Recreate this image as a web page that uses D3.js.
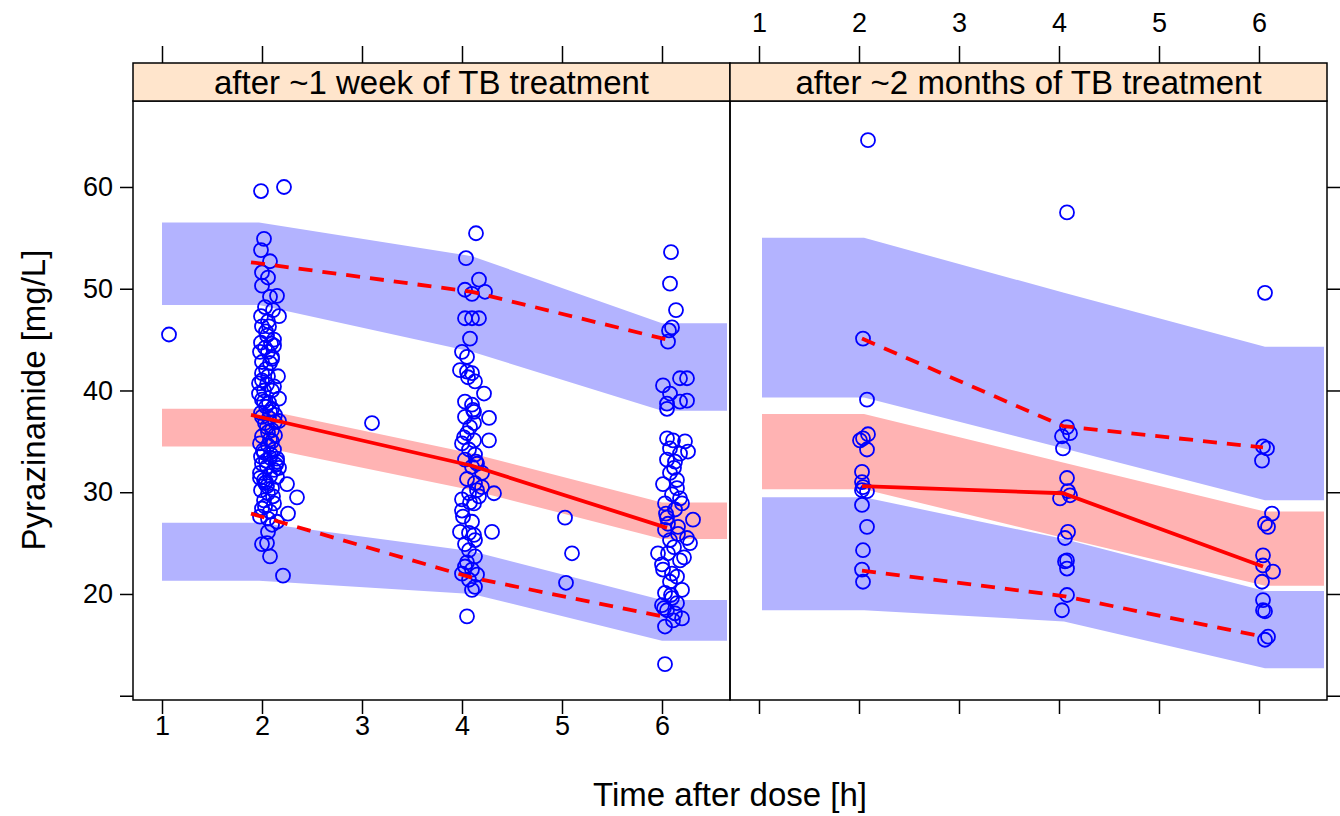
<!DOCTYPE html>
<html lang="en">
<head>
<meta charset="UTF-8">
<title>Pyrazinamide VPC</title>
<script src="https://cdn.jsdelivr.net/npm/d3@7"></script>
<style>
body{margin:0;background:#fff;}
text{font-family:"Liberation Sans",Arial,Helvetica,sans-serif;fill:#000;}
</style>
</head>
<body>
<script>
// panel titles
var panelTitles = ["after ~1 week of TB treatment", "after ~2 months of TB treatment"];

// tick values
var xTicks = [1, 2, 3, 4, 5, 6];
var yTicks = [10, 20, 30, 40, 50, 60];
var yTickLabels = ["", "20", "30", "40", "50", "60"];

// simulated prediction intervals, week 1
var bandTime1 = [1.0, 1.97, 4.1, 6.0, 6.65];
var upHi1  = [56.5, 56.5, 53.2, 46.6, 46.6];
var upLo1  = [48.4, 48.4, 43.8, 38.0, 38.0];
var medHi1 = [38.2, 38.2, 33.8, 29.0, 29.0];
var medLo1 = [34.5, 34.5, 30.2, 25.4, 25.4];
var lowHi1 = [27.0, 27.0, 24.2, 19.4, 19.4];
var lowLo1 = [21.3, 21.3, 20.0, 15.4, 15.4];

// simulated prediction intervals, month 2
var bandTime2 = [1.03, 2.05, 4.05, 6.06, 6.65];
var upHi2  = [55.0, 55.0, 49.6, 44.3, 44.3];
var upLo2  = [39.3, 39.3, 34.3, 29.2, 29.2];
var medHi2 = [37.7, 37.7, 32.9, 28.1, 28.1];
var medLo2 = [30.3, 30.3, 25.5, 20.8, 20.8];
var lowHi2 = [29.5, 29.5, 25.4, 20.3, 20.3];
var lowLo2 = [18.4, 18.4, 17.3, 12.7, 12.7];

// observed percentiles
var obsTime1 = [1.89, 4.1, 6.05];
var obsP95_1 = [52.6, 49.7, 45.0];
var obsP50_1 = [37.6, 32.6, 26.5];
var obsP05_1 = [27.9, 21.6, 17.7];

var obsTime2 = [2.03, 4.04, 6.04];
var obsP95_2 = [45.1, 36.5, 34.4];
var obsP50_2 = [30.6, 29.9, 22.7];
var obsP05_2 = [22.3, 19.8, 15.8];

// observations, week 1
var weekTime = [1.07,3.1,5.03,5.1,5.04,
1.99,2.22,2.02,1.99,2.08,2.0,2.06,2.0,2.08,2.15,2.03,2.11,2.17,1.99,2.0,2.07,2.05,2.12,1.99,2.09,2.03,1.98,2.06,2.1,2.0,2.08,2.04,2.0,2.06,2.16,1.97,2.05,2.12,2.02,2.1,2.0,2.17,2.07,2.04,2.1,1.99,2.0,2.07,2.13,2.17,2.03,2.1,2.05,2.0,2.08,2.13,1.98,2.06,2.12,2.02,1.99,2.08,2.15,2.04,2.0,2.05,2.12,2.17,1.98,2.08,2.15,2.02,2.25,2.03,2.1,1.99,2.06,2.35,2.02,2.12,2.0,2.08,2.26,1.98,2.06,2.15,2.1,2.06,2.05,2.0,2.08,2.21,
2.04,2.1,1.97,2.13,2.06,2.01,2.09,2.14,1.98,2.05,2.11,2.03,2.08,2.0,2.12,2.06,2.02,2.1,2.15,2.04,
4.14,4.04,4.17,4.03,4.1,4.23,4.03,4.1,4.17,4.08,4.0,4.05,3.98,4.05,4.1,4.13,4.22,4.03,4.1,4.12,4.03,4.27,4.12,4.05,4.12,4.27,4.07,4.13,4.03,4.1,4.2,4.13,4.07,4.17,4.32,4.12,3.98,4.07,4.3,4.13,4.07,4.13,4.03,4.1,4.07,4.13,4.1,4.05,4.0,4.05,4.15,4.0,4.08,4.15,4.0,4.1,4.03,4.0,4.15,4.2,
4.06,4.11,4.02,4.14,4.08,4.01,4.12,4.05,
6.09,6.08,6.14,6.10,6.07,6.06,6.01,6.18,6.25,6.08,6.05,6.25,6.18,6.05,6.05,6.11,6.23,6.26,6.08,6.18,6.05,6.13,6.08,6.01,6.15,6.18,6.03,6.13,6.31,6.03,6.16,6.25,6.28,6.08,5.96,6.06,6.18,6.01,6.10,6.15,6.20,6.03,6.10,6.15,6.05,6.20,6.11,6.03,6.03,6.1,6.05,6.12,6.0,6.08,6.13,6.0,6.15,6.2,6.06,
6.12,6.04,6.22,6.09,6.16,6.02];
var weekConc = [45.5,36.8,27.5,24.0,21.1,
59.6,60.0,54.9,53.8,52.7,51.6,51.1,50.3,49.2,49.3,48.2,47.9,47.3,47.3,46.3,46.3,45.4,45.0,44.7,44.6,44.2,43.8,43.8,43.3,42.8,42.7,42.1,41.7,41.4,41.4,40.7,40.6,40.4,40.0,40.0,39.1,39.2,38.8,38.4,38.2,37.8,37.4,37.3,37.6,37.0,36.8,36.1,36.4,35.5,35.2,35.6,34.8,34.6,34.2,33.9,33.5,33.4,33.0,33.1,32.8,32.5,32.2,32.4,31.9,31.6,31.5,31.2,30.8,30.9,30.4,30.2,29.9,29.5,29.2,28.9,28.4,28.1,27.9,27.6,27.4,27.1,26.8,26.1,25.0,24.9,23.7,21.8,
45.8,43.1,39.7,36.9,35.9,34.1,33.7,32.7,31.4,30.6,29.6,28.6,37.9,41.0,44.4,46.8,38.9,35.0,33.3,31.0,
55.45,53.0,50.9,49.9,49.5,49.7,47.1,47.1,47.1,45.1,43.8,43.3,42.0,41.85,41.7,40.9,39.7,38.9,38.6,37.9,37.4,37.3,36.8,35.8,35.1,35.1,34.2,33.7,33.2,32.5,31.9,30.9,29.9,29.6,29.9,28.9,26.1,26.0,26.1,25.3,24.3,23.7,22.7,22.4,21.4,20.7,20.4,17.8,29.3,31.3,32.8,34.8,36.4,30.2,28.2,27.1,24.9,22.0,21.9,30.5,
41.3,38.1,35.4,33.0,29.0,27.6,25.8,23.1,
53.6,50.5,47.9,46.2,45.9,44.8,40.5,41.2,41.2,39.7,38.7,39.0,38.9,38.2,35.3,35.1,35.0,34.0,34.3,33.8,33.2,33.0,31.9,30.8,30.4,29.4,28.9,28.3,27.3,26.3,26.6,25.5,25.0,25.3,24.0,24.0,23.3,22.4,22.0,21.7,20.4,20.1,19.6,19.1,18.4,17.6,17.4,16.8,13.1,29.8,27.5,24.6,22.9,21.2,18.1,18.9,31.2,28.9,26.9,
32.4,27.9,23.6,19.9,25.9,18.6];

// observations, month 2
var monthTime = [2.09,2.04,2.08,2.09,2.04,2.01,2.08,2.03,2.03,2.04,2.08,2.03,2.03,2.08,2.04,2.03,2.04,
4.08,4.08,4.11,4.03,4.04,4.08,4.09,4.11,4.01,4.09,4.06,4.08,4.06,4.08,4.08,4.03,
6.06,6.04,6.08,6.03,6.13,6.06,6.09,6.04,6.04,6.14,6.03,6.04,6.04,6.06,6.09,6.06];
var monthConc = [64.6,45.1,39.1,35.7,35.3,35.1,34.2,32.0,31.0,30.5,30.1,30.2,28.75,26.6,24.3,22.4,21.2,
57.5,36.4,35.8,35.5,34.3,31.4,30.1,29.7,29.4,26.1,25.5,23.3,23.2,22.5,19.9,18.4,
49.6,34.5,34.3,33.1,27.9,26.9,26.6,23.8,22.8,22.2,21.2,19.4,18.4,18.3,15.8,15.5];

var width = 1340, height = 816;
var plotTop = 101, plotBottom = 700, stripTop = 63;
var svg = d3.select("body").append("svg").attr("width", width).attr("height", height);

var yScale = d3.scaleLinear().domain([9.58, 68.45]).range([plotBottom, plotTop]);

function bands(t, a, b, c, d, e, f) {
	return [
		{col:"#b3b3ff", rows:t.map(function(v,i){return {t:v, lo:b[i], hi:a[i]};})},
		{col:"#ffb3b3", rows:t.map(function(v,i){return {t:v, lo:d[i], hi:c[i]};})},
		{col:"#b3b3ff", rows:t.map(function(v,i){return {t:v, lo:f[i], hi:e[i]};})}
	];
}

var panels = [
	{x0:133, x1:730, title:panelTitles[0],
	 bands:bands(bandTime1, upHi1, upLo1, medHi1, medLo1, lowHi1, lowLo1),
	 obsT:obsTime1, p95:obsP95_1, p50:obsP50_1, p05:obsP05_1,
	 ptT:weekTime, ptC:weekConc},
	{x0:730, x1:1327, title:panelTitles[1],
	 bands:bands(bandTime2, upHi2, upLo2, medHi2, medLo2, lowHi2, lowLo2),
	 obsT:obsTime2, p95:obsP95_2, p50:obsP50_2, p05:obsP05_2,
	 ptT:monthTime, ptC:monthConc}
];

panels.forEach(function(p, k) {
	var x = d3.scaleLinear().domain([0.71, 6.68]).range([p.x0, p.x1]);
	var g = svg.append("g");

	g.append("clipPath").attr("id", "clip" + k).append("rect")
		.attr("x", p.x0).attr("y", plotTop).attr("width", p.x1 - p.x0).attr("height", plotBottom - plotTop);
	var inner = g.append("g").attr("clip-path", "url(#clip" + k + ")");

	var area = d3.area().x(function(d){return x(d.t);})
		.y0(function(d){return yScale(d.lo);}).y1(function(d){return yScale(d.hi);});
	inner.selectAll("path.band").data(p.bands).enter().append("path")
		.attr("class", "band").attr("d", function(d){return area(d.rows);})
		.attr("fill", function(d){return d.col;}).attr("stroke", "none");

	// observed points
	inner.selectAll("circle").data(p.ptT).enter().append("circle")
		.attr("cx", function(d){return x(d);})
		.attr("cy", function(d, i){return yScale(p.ptC[i]);})
		.attr("r", 7).attr("fill", "none").attr("stroke", "#0000ff").attr("stroke-width", 1.8);

	// observed percentile lines
	var line = d3.line().x(function(d){return x(d[0]);}).y(function(d){return yScale(d[1]);});
	[[p.p95, "14,10"], [p.p50, null], [p.p05, "14,10"]].forEach(function(s) {
		inner.append("path")
			.attr("d", line(p.obsT.map(function(t, i){return [t, s[0][i]];})))
			.attr("fill", "none").attr("stroke", "#ff0000").attr("stroke-width", 3.8)
			.attr("stroke-dasharray", s[1]);
	});

	// frame
	g.append("rect").attr("x", p.x0).attr("y", plotTop).attr("width", p.x1 - p.x0)
		.attr("height", plotBottom - plotTop).attr("fill", "none").attr("stroke", "#000").attr("stroke-width", 1.5);

	// strip
	g.append("rect").attr("x", p.x0).attr("y", stripTop).attr("width", p.x1 - p.x0)
		.attr("height", plotTop - stripTop).attr("fill", "#ffe5cc").attr("stroke", "#000").attr("stroke-width", 1.5);
	g.append("text").attr("x", (p.x0 + p.x1) / 2).attr("y", (stripTop + plotTop) / 2 + 12)
		.attr("text-anchor", "middle").attr("font-size", "33px").text(p.title);

	// bottom axis: labels only on the first panel
	var bottom = d3.axisBottom(x).tickValues(xTicks).tickSize(14).tickPadding(2)
		.tickFormat(k === 0 ? d3.format("d") : function(){return "";});
	svg.append("g").attr("class", "axis").attr("transform", "translate(0," + plotBottom + ")").call(bottom);

	// top axis: labels only on the second panel
	var top = d3.axisTop(x).tickValues(xTicks).tickSize(17).tickPadding(14)
		.tickFormat(k === 1 ? d3.format("d") : function(){return "";});
	svg.append("g").attr("class", "axis").attr("transform", "translate(0," + stripTop + ")").call(top);
});

// y axes
var yLeft = d3.axisLeft(yScale).tickValues(yTicks).tickSize(13).tickPadding(7)
	.tickFormat(function(d, i){return yTickLabels[i];});
svg.append("g").attr("class", "axis").attr("transform", "translate(133,0)").call(yLeft);
var yRight = d3.axisRight(yScale).tickValues(yTicks).tickSize(13).tickFormat(function(){return "";});
svg.append("g").attr("class", "axis").attr("transform", "translate(1327,0)").call(yRight);

svg.selectAll(".axis .domain").remove();
svg.selectAll(".axis line").attr("stroke", "#000").attr("stroke-width", 1.5);
svg.selectAll(".axis text").attr("font-size", "27px").attr("font-family", "Liberation Sans, Arial, sans-serif").attr("fill", "#000");

// axis titles
svg.append("text").attr("x", 730).attr("y", 806).attr("text-anchor", "middle")
	.attr("font-size", "33px").text("Time after dose [h]");
svg.append("text").attr("transform", "translate(45,400) rotate(-90)").attr("text-anchor", "middle")
	.attr("font-size", "33px").text("Pyrazinamide [mg/L]");
</script>
</body>
</html>
